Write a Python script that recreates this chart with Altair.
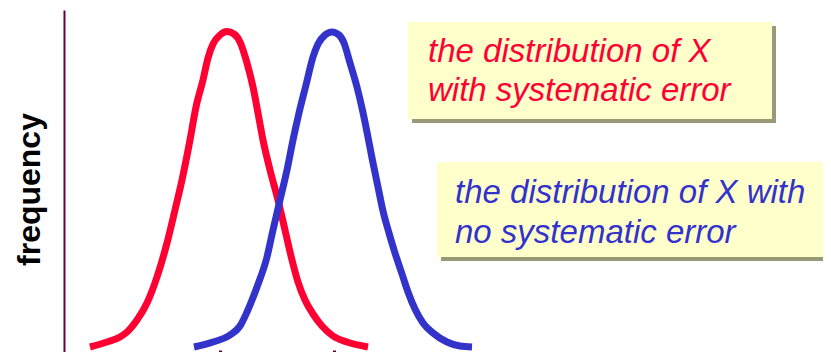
import altair as alt
import pandas as pd

# ---- data (arbitrary units) ----
red_x = [2.6, 4.3, 5.6, 6.3, 7.3, 8.3, 9.3, 10.3, 11.1, 11.8, 12.6, 13.2, 13.9, 14.4, 14.9,
         15.6, 16.3, 17.0, 17.6, 18.3, 18.9, 19.4, 19.9, 20.6, 21.4, 22.1, 22.8, 23.4,
         24.1, 24.9, 25.8, 26.9, 28.3, 30.4]
red_freq = [1.25, 2.5, 3.75, 5.0, 8.0, 12.25, 18.75, 27.25, 35.5, 43.0, 53.0, 61.25, 68.0,
            73.5, 77.0, 79.25, 80.1, 79.5, 77.5, 72.25, 66.25, 59.75, 53.0, 45.5, 38.0,
            30.5, 23.0, 17.5, 13.0, 9.5, 6.5, 4.0, 2.5, 1.25]

blue_x = [13.0, 14.9, 16.6, 17.6, 18.3, 19.3, 20.3, 20.9, 21.6, 22.3, 22.9, 23.5, 24.2,
          24.9, 25.4, 26.1, 26.8, 27.5, 28.0, 28.6, 29.3, 29.8, 30.3, 30.8, 31.4, 31.9,
          32.5, 33.1, 33.8, 34.4, 35.1, 35.9, 36.9, 38.3, 39.6, 40.8]
blue_freq = [1.25, 2.5, 4.25, 6.5, 10.0, 16.25, 23.75, 30.5, 38.0, 45.5, 53.0, 59.75, 66.75,
             73.75, 77.0, 79.25, 80.0, 79.25, 77.25, 72.25, 66.25, 61.0, 55.0, 48.5, 41.25,
             35.25, 29.75, 24.75, 19.5, 15.0, 10.75, 7.25, 4.75, 2.5, 1.5, 1.25]

tick_values = [15.6, 27.0]

series_names = ["with systematic error", "no systematic error"]
series_colors = ["#FF0033", "#3333CC"]

red_label = ["the distribution of X", "with systematic error"]
blue_label = ["the distribution of X with", "no systematic error"]

# ---- tables ----
df = pd.concat([
    pd.DataFrame({"value": red_x, "freq": red_freq, "series": series_names[0]}),
    pd.DataFrame({"value": blue_x, "freq": blue_freq, "series": series_names[1]}),
], ignore_index=True)

xscale = alt.Scale(domain=[0, 75.9], nice=False, zero=False)
yscale = alt.Scale(domain=[0, 85.5], nice=False, zero=False)

lines = alt.Chart(df).mark_line(strokeWidth=7, interpolate="monotone", strokeCap="butt").encode(
    x=alt.X("value:Q", scale=xscale,
            axis=alt.Axis(values=tick_values, labels=False, domain=False, grid=False,
                          ticks=True, tickSize=12, tickWidth=3, tickColor="#660044",
                          offset=-2, title=None)),
    y=alt.Y("freq:Q", scale=yscale,
            axis=alt.Axis(title="frequency", labels=False, ticks=False, grid=False,
                          domain=True, domainColor="#660044", domainWidth=2,
                          titleFontSize=32, titleFontWeight="bold", titleFont="Liberation Sans",
                          titleColor="black", titleAngle=270, titleX=-25, titleY=179,
                          titleAlign="center", titleBaseline="alphabetic")),
    color=alt.Color("series:N", scale=alt.Scale(domain=series_names, range=series_colors),
                    legend=None),
    detail="series:N",
)

def box(x1, x2, y1, y2):
    base = alt.Chart(pd.DataFrame({"a": [0]}))
    shadow = base.mark_rect(color="#999977", xOffset=4, x2Offset=4, yOffset=4, y2Offset=4).encode(
        x=alt.X(datum=x1, scale=xscale), x2=alt.datum(x2),
        y=alt.Y(datum=y1, scale=yscale), y2=alt.datum(y2))
    fill = base.mark_rect(color="#FFFFCC").encode(
        x=alt.X(datum=x1, scale=xscale), x2=alt.datum(x2),
        y=alt.Y(datum=y1, scale=yscale), y2=alt.datum(y2))
    return shadow + fill

def label(text, x, y, color, lh):
    return alt.Chart(pd.DataFrame({"a": [0]})).mark_text(
        text=text, align="left", baseline="alphabetic", font="Liberation Sans",
        fontSize=33, fontStyle="italic", color=color, lineHeight=lh).encode(
        x=alt.X(datum=x, scale=xscale), y=alt.Y(datum=y, scale=yscale))

red_box = box(34.4, 70.8, 82.5, 58.25)
blue_box = box(37.3, 80.0, 47.5, 23.75)

chart = alt.layer(
    lines,
    red_box,
    blue_box,
    label(red_label, 36.4, 72.5, series_colors[0], 39),
    label(blue_label, 39.1, 37.25, series_colors[1], 40),
).properties(
    width=759, height=342,
    autosize=alt.AutoSizeParams(type="none"),
    padding={"left": 56, "top": 2, "right": 0, "bottom": 0},
    background="white",
).configure_view(stroke=None)

chart.save("out.html", embed_options={"renderer": "svg", "actions": False})
